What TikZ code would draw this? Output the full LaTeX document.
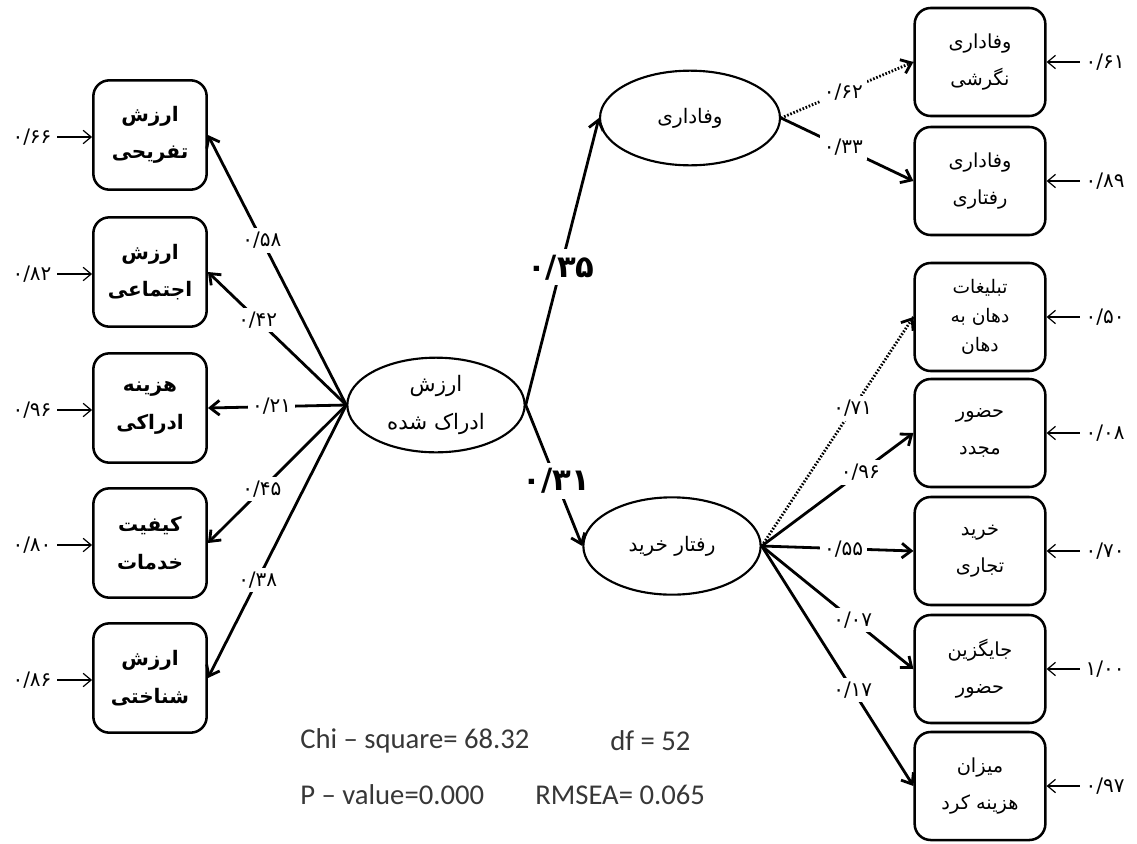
\documentclass[tikz,border=0pt]{standalone}
\usepackage{fontspec}
\setmainfont{Carlito}
\newfontfamily\fa[Script=Arabic]{DejaVu Sans}
\TeXXeTstate=1
\usetikzlibrary{arrows.meta,shapes.geometric,calc}
\newcommand\rtlw[1]{\beginR#1\endR}
\definecolor{statc}{RGB}{55,55,55}
\begin{document}
\begin{tikzpicture}[x=0.75pt,y=-0.75pt,
  lbox/.style={draw,line width=1.9pt,rounded corners=12pt,minimum width=85pt,minimum height=82pt,align=center,inner sep=0pt,font=\fa\bfseries\fontsize{15}{28}\selectfont},
  rbox/.style={draw,line width=1.9pt,rounded corners=12pt,minimum width=98pt,minimum height=81pt,align=center,inner sep=0pt,font=\fa\fontsize{14.5}{28}\selectfont},
  ell/.style={draw,ellipse,line width=1.6pt,minimum width=133pt,minimum height=71pt,inner sep=0pt,align=center,font=\fa\fontsize{15}{28}\selectfont},
  mainarr/.style={line width=2.1pt,-{Straight Barb[length=7pt,width=11pt]}},
  dotline/.style={line width=2.1pt,dash pattern=on 1.2pt off 1.3pt},
  lbl/.style={fill=white,inner sep=3pt,font=\fa\fontsize{15}{17}\selectfont},
  biglbl/.style={fill=white,inner sep=4pt,font=\fa\bfseries\fontsize{23}{25}\selectfont},
  errarr/.style={line width=0.9pt,-{Straight Barb[length=6pt,width=10pt]}},
  errlbl/.style={inner sep=4pt,font=\fa\fontsize{15}{17}\selectfont},
  stat/.style={anchor=west,inner sep=0pt,text=statc,font=\fontsize{21.5}{25}\selectfont}]
\useasboundingbox (0,0) rectangle (1137,843);

% left boxes
\node[lbox] (b1) at (150,135) {\rtlw{ارزش}\\\rtlw{تفریحی}};
\node[lbox] (b2) at (150,272) {\rtlw{ارزش}\\\rtlw{اجتماعی}};
\node[lbox] (b3) at (150,408) {\rtlw{هزینه}\\\rtlw{ادراکی}};
\node[lbox] (b4) at (150,543) {\rtlw{کیفیت}\\\rtlw{خدمات}};
\node[lbox] (b5) at (150,678) {\rtlw{ارزش}\\\rtlw{شناختی}};

% ellipses
\node[ell,font=\fa\fontsize{16}{28}\selectfont] (c) at (436,405) {\rtlw{ارزش}\\\rtlw{ادراک شده}};
\node[ell,minimum width=135pt] (t) at (690,118) {\rtlw{وفاداری}};
\node[ell,minimum height=73pt] (r) at (672,546) {\rtlw{رفتار خرید}};

% right boxes
\node[rbox] (r1) at (980,62) {\rtlw{وفاداری}\\\rtlw{نگرشی}};
\node[rbox] (r2) at (980,181) {\rtlw{وفاداری}\\\rtlw{رفتاری}};
\node[rbox,font=\fa\fontsize{14}{22}\selectfont] (r3) at (980,317) {\rtlw{تبلیغات}\\\rtlw{دهان به}\\\rtlw{دهان}};
\node[rbox] (r4) at (980,433) {\rtlw{حضور}\\\rtlw{مجدد}};
\node[rbox] (r5) at (980,551) {\rtlw{خرید}\\\rtlw{تجاری}};
\node[rbox] (r6) at (980,669) {\rtlw{جایگزین}\\\rtlw{حضور}};
\node[rbox] (r7) at (980,786) {\rtlw{میزان}\\\rtlw{هزینه کرد}};

% left paths
\draw[mainarr] (c.west) -- node[lbl,pos=0.61] {۰/۵۸} (b1.east);
\draw[mainarr] (c.west) -- node[lbl,pos=0.64] {۰/۴۲} (b2.east);
\draw[mainarr] (c.west) -- node[lbl,pos=0.54] {۰/۲۱} (b3.east);
\draw[mainarr] (c.west) -- node[lbl,pos=0.61] {۰/۴۵} (b4.east);
\draw[mainarr] (c.west) -- node[lbl,pos=0.64] {۰/۳۸} (b5.east);

% structural paths
\draw[mainarr] (c.east) -- node[biglbl,pos=0.48] {۰/۳۵} (t.west);
\draw[mainarr] (c.east) -- node[biglbl,pos=0.54] {۰/۳۱} (r.west);

% loyalty indicators
\draw[dotline] (t.east) -- node[lbl,pos=0.47] {۰/۶۲} (r1.west);
\draw[mainarr] ($(r1.west)!4pt!(t.east)$) -- (r1.west);
\draw[mainarr] (t.east) -- node[lbl,pos=0.47] {۰/۳۳} (r2.west);

% purchase behaviour indicators
\draw[dotline] (r.east) -- node[lbl,pos=0.6] {۰/۷۱} (r3.west);
\draw[mainarr] ($(r3.west)!4pt!(r.east)$) -- (r3.west);
\draw[mainarr] (r.east) -- node[lbl,pos=0.65] {۰/۹۶} (r4.west);
\draw[mainarr] (r.east) -- node[lbl,pos=0.54] {۰/۵۵} (r5.west);
\draw[mainarr] (r.east) -- node[lbl,pos=0.6] {۰/۰۷} (r6.west);
\draw[mainarr] (r.east) -- node[lbl,pos=0.6] {۰/۱۷} (r7.west);

% left errors
\node[errlbl] (e1) at (32,137) {۰/۶۶};
\node[errlbl] (e2) at (32,274) {۰/۸۲};
\node[errlbl] (e3) at (32,410) {۰/۹۶};
\node[errlbl] (e4) at (32,545) {۰/۸۰};
\node[errlbl] (e5) at (32,680) {۰/۸۶};
\foreach \i in {1,...,5}{\draw[errarr] (e\i.east) -- (b\i.west |- e\i.east);}

% right errors
\node[errlbl] (f1) at (1105,62) {۰/۶۱};
\node[errlbl] (f2) at (1105,181) {۰/۸۹};
\node[errlbl] (f3) at (1105,317) {۰/۵۰};
\node[errlbl] (f4) at (1105,433) {۰/۰۸};
\node[errlbl] (f5) at (1105,551) {۰/۷۰};
\node[errlbl] (f6) at (1105,669) {۱/۰۰};
\node[errlbl] (f7) at (1105,786) {۰/۹۷};
\foreach \i in {1,...,7}{\draw[errarr] (f\i.west) -- (r\i.east |- f\i.west);}

% fit statistics
\node[stat] (s1) at (300,741) {Chi – square= 68.32};
\node[stat] (s2) at (610,741) {df = 52};
\node[stat] (s3) at (300,795) {P – value=0.000};
\node[stat] (s4) at (535,795) {RMSEA= 0.065};
\end{tikzpicture}
\end{document}
